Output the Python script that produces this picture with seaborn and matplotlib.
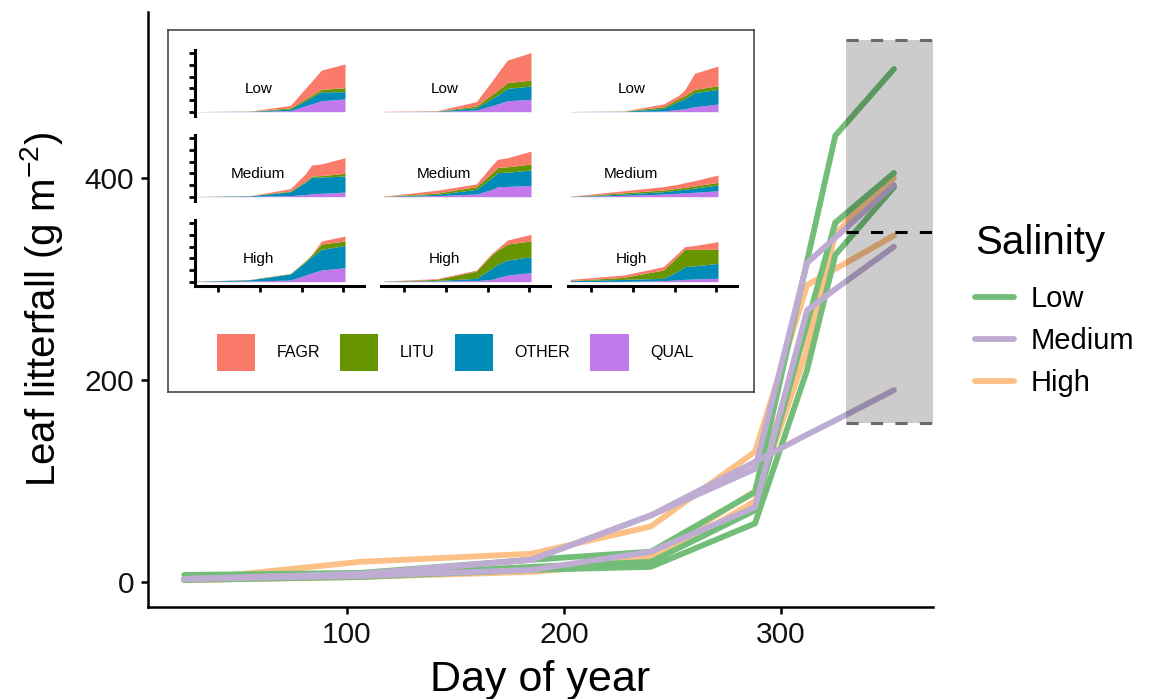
import pandas as pd
import matplotlib
matplotlib.use("Agg")
import matplotlib.pyplot as plt
from matplotlib.patches import Patch
import seaborn as sns

# -------------------------------
# Main panel: total leaf litterfall per site
# -------------------------------
days = [25, 106, 185, 240, 288, 312, 325, 352]

salinity_levels = ["Low", "Medium", "High"]
site_ids = ["L1", "L2", "L3", "M1", "M2", "M3", "H1", "H2", "H3"]
site_salinity = ["Low", "Low", "Low", "Medium", "Medium", "Medium", "High", "High", "High"]

low_1 = [3, 6, 15, 20, 71, 256, 356, 405]
low_2 = [7, 9, 22, 30, 89, 318, 442, 508]
low_3 = [2, 5, 12, 15, 58, 210, 324, 391]
med_1 = [3, 6, 12, 30, 74, 269, 290, 332]
med_2 = [3, 8, 22, 66, 112, 316, 341, 393]
med_3 = [3, 8, 22, 66, 119, 146, 160, 190]
high_1 = [2, 5, 12, 25, 90, 250, 356, 391]
high_2 = [2, 5, 10, 20, 80, 230, 345, 400]
high_3 = [2, 20, 28, 55, 129, 294, 310, 343]
main_series = [low_1, low_2, low_3, med_1, med_2, med_3, high_1, high_2, high_3]

# shaded range of final values
band_x = [330, 370]
band_lo, band_mid, band_hi = 157, 347, 537

# -------------------------------
# Inset: litterfall by species (stacked), one panel per site
# -------------------------------
inset_x = [25, 143, 231, 265, 278, 300, 352]
inset_xticks = [72, 163, 256, 348]
species = ["FAGR", "LITU", "OTHER", "QUAL"]

qual = [
    [0.5, 1, 9, 51, 67, 94, 109],
    [0.5, 2, 14, 51, 67, 94, 106],
    [0.5, 1, 6, 20, 25, 43, 66],
    [0.5, 3, 9, 18, 26, 29, 40],
    [1, 9, 23, 61, 86, 88, 97],
    [1, 11, 23, 30, 33, 38, 51],
    [1, 6, 14, 57, 75, 100, 120],
    [1, 6, 9, 20, 35, 57, 77],
    [1, 3, 9, 16, 20, 23, 29],
]
other = [
    [0.5, 2, 14, 45, 57, 77, 62],
    [0.5, 2, 20, 62, 76, 106, 114],
    [0.5, 2, 23, 69, 85, 120, 125],
    [0.5, 5, 34, 108, 140, 139, 137],
    [1, 11, 40, 102, 120, 122, 132],
    [1, 12, 20, 28, 31, 36, 49],
    [2, 11, 52, 113, 140, 177, 191],
    [2, 5, 20, 94, 115, 129, 137],
    [7, 17, 20, 79, 109, 113, 128],
]
litu = [
    [0.2, 1, 11, 15, 17, 20, 35],
    [0.5, 1, 15, 33, 40, 49, 51],
    [0.5, 1, 14, 23, 27, 28, 32],
    [0.5, 1, 6, 9, 11, 13, 23],
    [1, 11, 23, 39, 45, 46, 51],
    [1, 11, 14, 16, 16, 18, 23],
    [0.5, 2, 3, 10, 15, 46, 38],
    [1, 9, 62, 116, 120, 137, 135],
    [2, 17, 71, 130, 148, 141, 120],
]
fagr = [
    [0.3, 2, 20, 92, 119, 166, 203],
    [1.5, 3, 37, 114, 147, 194, 235],
    [0.5, 2, 23, 28, 49, 138, 168],
    [0.5, 1, 20, 64, 94, 100, 134],
    [1, 24, 23, 65, 69, 78, 111],
    [1, 17, 29, 33, 40, 45, 63],
    [0.5, 1, 2, 2, 3, 26, 42],
    [1, 6, 9, 13, 15, 34, 57],
    [10, 20, 29, 26, 23, 33, 66],
]

# -------------------------------
# Styling
# -------------------------------
sns.set_theme(style="ticks")
plt.rcParams["font.family"] = ["Liberation Sans", "DejaVu Sans"]
plt.rcParams["mathtext.fontset"] = "custom"
plt.rcParams["mathtext.rm"] = "Liberation Sans"
plt.rcParams["mathtext.default"] = "regular"
plt.rcParams["text.color"] = "black"
plt.rcParams["axes.labelcolor"] = "black"

sal_colors = {"Low": "#72BE78", "Medium": "#BEACD3", "High": "#FDC086"}
species_colors = {"FAGR": "#FA7B69", "LITU": "#669500", "OTHER": "#008BB8", "QUAL": "#C27AEB"}

W, H = 1150, 699
fig = plt.figure(figsize=(W / 100, H / 100), dpi=100)

def px_axes(x0, y_top, x1, y_bot):
    return fig.add_axes([x0 / W, (H - y_bot) / H, (x1 - x0) / W, (y_bot - y_top) / H])

# -------------------------------
# Main line plot
# -------------------------------
rows = []
for sid, sal, vals in zip(site_ids, site_salinity, main_series):
    for d, v in zip(days, vals):
        rows.append({"Day": d, "Litter": v, "Salinity": sal, "Site": sid})
df = pd.DataFrame(rows)

ax = px_axes(148, 12, 933, 607)
sns.lineplot(data=df, x="Day", y="Litter", hue="Salinity", units="Site",
             estimator=None, hue_order=salinity_levels, palette=sal_colors,
             lw=4.2, ax=ax)
z_by_color = {matplotlib.colors.to_hex(c): z for c, z in
              zip([sal_colors["High"], sal_colors["Low"], sal_colors["Medium"]], [2.1, 2.2, 2.3])}
for ln in ax.get_lines():
    ln.set_zorder(z_by_color.get(matplotlib.colors.to_hex(ln.get_color()), 2))

ax.fill_between(band_x, band_lo, band_hi, color="black", alpha=0.2, lw=0, zorder=5)
for yv, col in [(band_hi, "#6b6b6b"), (band_lo, "#6b6b6b"), (band_mid, "black")]:
    ax.plot(band_x, [yv, yv], color=col, lw=2.2, ls=(0, (4, 4)), zorder=6)

ax.set_xlim(8.3, 370)
ax.set_ylim(-24.75, 564.4)
ax.set_xticks([100, 200, 300])
ax.set_yticks([0, 200, 400])
sns.despine(ax=ax)
for s in ["left", "bottom"]:
    ax.spines[s].set_linewidth(1.8)
    ax.spines[s].set_color("black")
ax.tick_params(length=5, width=1.8, color="black", labelsize=21.5,
               labelcolor="#111111", pad=5)
ax.set_xlabel("Day of year", fontsize=31, labelpad=8)
ax.set_ylabel(r"Leaf litterfall (g m$^{-2}$)", fontsize=29, labelpad=14)

sns.move_legend(ax, "center left", bbox_to_anchor=(1.02, 0.498), frameon=False,
                title="Salinity", fontsize=21, title_fontsize=29,
                handlelength=1.35, handletextpad=0.55, labelspacing=0.48,
                alignment="left")
leg = ax.get_legend()
leg._legend_box.sep = 17

# -------------------------------
# Inset box with species legend
# -------------------------------
box = px_axes(168, 30, 754, 392)
box.set_xticks([])
box.set_yticks([])
for s in box.spines.values():
    s.set_color("#3a3a3a")
    s.set_linewidth(1.1)
handles = [Patch(facecolor=species_colors[sp], edgecolor="none", label=sp) for sp in species]
box.legend(handles=handles, loc="center", bbox_to_anchor=(0.49, 0.108), ncol=4,
           frameon=False, fontsize=11.5, handlelength=2.4, handleheight=3.2,
           handletextpad=1.35, columnspacing=1.25)

col_x = [195, 381, 568]
row_zero = [111.7, 196.7, 281.7]
unit_px = 11.67 / 100
ylo, yhi = -35, 530
for i in range(9):
    r, c = divmod(i, 3)
    y_bot = row_zero[r] - ylo * unit_px
    y_top = row_zero[r] - yhi * unit_px
    pax = px_axes(col_x[c], y_top, col_x[c] + 169, y_bot)
    pax.patch.set_alpha(0)
    pax.stackplot(inset_x, qual[i], other[i], litu[i], fagr[i],
                  colors=[species_colors[s] for s in ["QUAL", "OTHER", "LITU", "FAGR"]],
                  lw=0)
    pax.set_xlim(20, 394)
    pax.set_ylim(ylo, yhi)
    for s in pax.spines.values():
        s.set_visible(False)
        s.set_linewidth(2.2)
        s.set_color("black")
    if c == 0:
        pax.spines["left"].set_visible(True)
        pax.set_yticks(range(0, 501, 100))
    else:
        pax.set_yticks([])
    if r == 2:
        pax.spines["bottom"].set_visible(True)
        pax.set_xticks(inset_xticks)
    else:
        pax.set_xticks([])
    pax.tick_params(length=4.5, width=2, color="black", direction="out",
                    labelleft=False, labelbottom=False)
    pax.text(160, 195, salinity_levels[r], ha="center", va="center", fontsize=11)

fig.savefig("out.png", dpi=100)
